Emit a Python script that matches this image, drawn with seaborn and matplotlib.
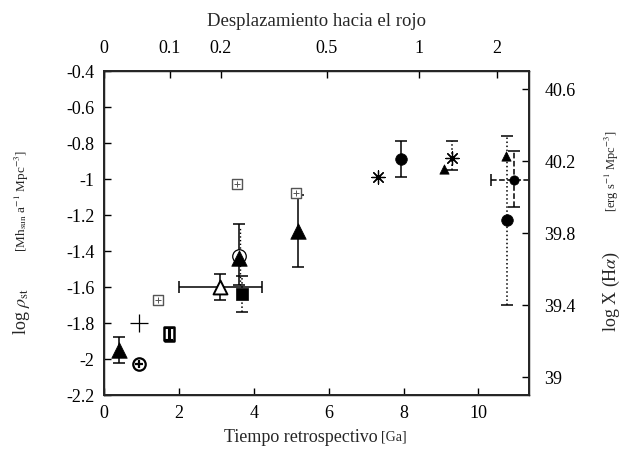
import matplotlib
matplotlib.use("Agg")
import matplotlib.pyplot as plt
import seaborn as sns

# lookback time [Ga] and log rho_st for each family of symbols
tri_t = [0.40, 3.60, 5.17]            # large filled triangles
tri_rho = [-1.95, -1.44, -1.29]
tri_lo = [0.07, 0.15, 0.20]
tri_hi = [0.07, 0.19, 0.20]

stri_t = [9.09, 10.74]                # small filled triangles
stri_rho = [-0.945, -0.87]

circ_t = [7.93, 10.75]                # filled circles
circ_rho = [-0.89, -1.23]
circ_err = [0.10, 0.47]

dot_t = [10.94]                       # small filled circle, dashed errors
dot_rho = [-1.005]
dot_xlo = [0.61]
dot_xhi = [0.60]
dot_ylo = [0.15]
dot_yhi = [0.16]

oplus_t = [0.93]                      # circle with plus
oplus_rho = [-2.03]

plus_t = [0.93]                       # thin plus
plus_rho = [-1.80]

sqp_t = [1.44, 3.56, 5.14]            # open squares with dotted plus
sqp_rho = [-1.67, -1.025, -1.075]

rect_t = [1.74]                       # open rectangle
rect_rho = [-1.86]
rect_err = [0.035]

otri_t = [3.10]                       # open triangle
otri_rho = [-1.60]
otri_xlo = [1.10]
otri_xhi = [1.12]
otri_err = [0.07]

ocirc_t = [3.60]                      # open circle
ocirc_rho = [-1.43]
ocirc_err = [0.16]

fsq_t = [3.69]                        # filled square
fsq_rho = [-1.64]
fsq_err = [0.10]

ast_t = [7.31, 9.29]                  # asterisks
ast_rho = [-0.99, -0.886]
ast_lo = [0.0, 0.065]
ast_hi = [0.0, 0.095]

# axis ticks
y_ticks = [-2.2, -2.0, -1.8, -1.6, -1.4, -1.2, -1.0, -0.8, -0.6, -0.4]
y_labels = ['-2.2', '-2', '-1.8', '-1.6', '-1.4', '-1.2', '-1', '-0.8', '-0.6', '-0.4']
x_ticks = [0, 2, 4, 6, 8, 10]
z_pos = [0, 1.76, 3.12, 5.95, 8.42, 10.49]
z_labels = ['0', '0.1', '0.2', '0.5', '1', '2']
ha_ticks = [39.0, 39.4, 39.8, 40.2, 40.6]
ha_labels = ['39', '39.4', '39.8', '40.2', '40.6']

sns.set_theme(style="ticks")
plt.rcParams['font.family'] = ['Liberation Serif', 'DejaVu Serif']
plt.rcParams['mathtext.fontset'] = 'stix'
plt.rcParams['axes.unicode_minus'] = False

fig = plt.figure(figsize=(6.38, 4.54), dpi=100)
ax = fig.add_axes([104/638, 1 - 395/454, 425/638, 324/454])
ax.set_xlim(0, 11.35)
ax.set_ylim(-2.2, -0.4)

k = 'black'
eb = dict(fmt='none', ecolor=k, elinewidth=1.1, capsize=4, capthick=1.1, zorder=2)

# error bars
ax.errorbar(tri_t, tri_rho, yerr=[tri_lo, tri_hi], **eb)
ax.errorbar(circ_t[:1], circ_rho[:1], yerr=circ_err[:1], **eb)
e = ax.errorbar(circ_t[1:], circ_rho[1:], yerr=circ_err[1:], **eb)
e[2][0].set_linestyle(':')
e = ax.errorbar(dot_t, dot_rho, xerr=[dot_xlo, dot_xhi], yerr=[dot_ylo, dot_yhi], **eb)
for c in e[2]:
    c.set_linestyle('--')
ax.errorbar(otri_t, otri_rho, xerr=[otri_xlo, otri_xhi], yerr=otri_err, **eb)
ax.errorbar(rect_t, rect_rho, yerr=rect_err, fmt='none', ecolor=k, elinewidth=2.2,
            capsize=3, capthick=1.5, zorder=2)
e = ax.errorbar([t + 0.03 for t in ocirc_t], ocirc_rho, yerr=ocirc_err, fmt='none',
                ecolor=k, elinewidth=1.0, capsize=0, zorder=1)
e[2][0].set_linestyle(':')
e = ax.errorbar(fsq_t, fsq_rho, yerr=fsq_err, **eb)
e[2][0].set_linestyle(':')
e = ax.errorbar(ast_t[1:], ast_rho[1:], yerr=[ast_lo[1:], ast_hi[1:]], **eb)
e[2][0].set_linestyle(':')

# symbols
sns.scatterplot(x=ocirc_t, y=ocirc_rho, marker='o', s=95, color=k, facecolor='white',
                edgecolor=k, linewidth=0.9, ax=ax, zorder=3)
sns.scatterplot(x=tri_t, y=tri_rho, marker='^', s=125, color=k, edgecolor=k,
                linewidth=0.5, ax=ax, zorder=4)
sns.scatterplot(x=stri_t, y=stri_rho, marker='^', s=45, color=k, edgecolor=k,
                linewidth=0.5, ax=ax, zorder=4)
sns.scatterplot(x=circ_t, y=circ_rho, marker='o', s=70, color=k, edgecolor=k,
                linewidth=0.5, ax=ax, zorder=4)
sns.scatterplot(x=dot_t, y=dot_rho, marker='o', s=45, color=k, edgecolor=k,
                linewidth=0.5, ax=ax, zorder=4)
sns.scatterplot(x=oplus_t, y=oplus_rho, marker='o', s=80, color=k, facecolor='white',
                edgecolor=k, linewidth=1.6, ax=ax, zorder=4)
sns.scatterplot(x=oplus_t, y=oplus_rho, marker='+', s=30, color=k, linewidth=1.6,
                ax=ax, zorder=5)
sns.scatterplot(x=plus_t, y=plus_rho, marker='+', s=150, color=k, linewidth=0.9,
                ax=ax, zorder=4)
sns.scatterplot(x=sqp_t, y=sqp_rho, marker='s', s=60, color='#555555', facecolor='white',
                edgecolor='#555555', linewidth=1.0, ax=ax, zorder=4)
sns.scatterplot(x=sqp_t, y=sqp_rho, marker='+', s=16, color='#555555', linewidth=0.7,
                ax=ax, zorder=5)
rect_marker = [(-0.7, -1), (0.7, -1), (0.7, 1), (-0.7, 1), (-0.7, -1)]
sns.scatterplot(x=rect_t, y=rect_rho, marker=rect_marker, s=110, color=k, facecolor='none',
                edgecolor=k, linewidth=1.8, ax=ax, zorder=4)
sns.scatterplot(x=otri_t, y=otri_rho, marker='^', s=100, color=k, facecolor='white',
                edgecolor=k, linewidth=1.4, ax=ax, zorder=4)
sns.scatterplot(x=fsq_t, y=fsq_rho, marker='s', s=75, color=k, edgecolor=k,
                linewidth=0.5, ax=ax, zorder=4)
sns.scatterplot(x=ast_t, y=ast_rho, marker=(8, 2, 0), s=90, color=k, linewidth=0.9,
                ax=ax, zorder=4)

# axes and labels
tick_kw = dict(direction='in', length=5, width=1, labelsize=13, colors=k)
ax.set_yticks(y_ticks)
ax.set_yticklabels(y_labels)
ax.set_xticks(x_ticks)
ax.tick_params(axis='both', pad=7, **tick_kw)
for s in ax.spines.values():
    s.set_visible(True)
    s.set_linewidth(1.0)
    s.set_color(k)

ax2 = ax.twinx()
ax2.set_ylim(38.9, 40.7)
ax2.set_yticks(ha_ticks)
ax2.set_yticklabels(ha_labels)
ax2.tick_params(axis='y', pad=11, **tick_kw)

ax3 = ax.twiny()
ax3.set_xlim(ax.get_xlim())
ax3.set_xticks(z_pos)
ax3.set_xticklabels(z_labels)
ax3.tick_params(axis='x', pad=10, **tick_kw)
ax3.set_xlabel('Desplazamiento hacia el rojo', fontsize=13.5, labelpad=10)

ax.set_xlabel('')
ax.set_ylabel('')
ax.text(0.645, -0.13, 'Tiempo retrospectivo', transform=ax.transAxes,
        ha='right', va='center', fontsize=13)
ax.text(0.652, -0.13, '[Ga]', transform=ax.transAxes,
        ha='left', va='center', fontsize=10)

ax.text(-0.193, 0.185, r'log $\rho_{\rm st}$', transform=ax.transAxes, rotation=90,
        ha='center', va='bottom', fontsize=13)
ax.text(-0.193, 0.44, r'[Mh$_{\rm sun}$ a$^{-1}$ Mpc$^{-3}$]', transform=ax.transAxes,
        rotation=90, ha='center', va='bottom', fontsize=9.5)
ax.text(1.195, 0.194, r'log X (H$\alpha$)', transform=ax.transAxes, rotation=90,
        ha='center', va='bottom', fontsize=13)
ax.text(1.195, 0.565, r'[erg s$^{-1}$ Mpc$^{-3}$]', transform=ax.transAxes,
        rotation=90, ha='center', va='bottom', fontsize=9)

fig.savefig('out.png', dpi=100)
